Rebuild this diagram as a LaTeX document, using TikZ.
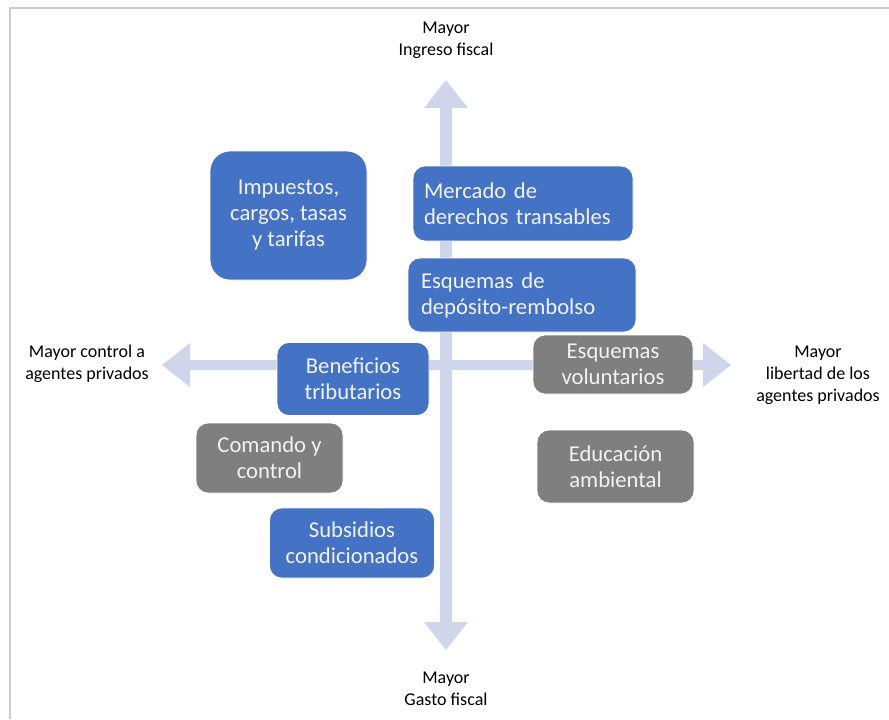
\documentclass[tikz,border=0pt]{standalone}
\usepackage{fontspec}
\setmainfont{Carlito}
\usetikzlibrary{positioning}
\definecolor{toolblue}{RGB}{68,114,196}
\definecolor{toolgray}{RGB}{127,127,127}
\definecolor{axisfill}{RGB}{207,213,234}
\definecolor{tooltext}{RGB}{242,242,242}

\tikzset{
  tool/.style={rectangle,rounded corners=9pt,draw=white,line width=0.6pt,
    text=tooltext,font=\fontsize{17}{19.5}\selectfont,inner sep=0pt,align=center},
  bluetool/.style={tool,fill=toolblue},
  graytool/.style={tool,fill=toolgray},
  axislabel/.style={align=center,font=\fontsize{13.5}{16.5}\selectfont}
}

\begin{document}
\begin{tikzpicture}[x=0.75pt,y=-0.75pt]
\useasboundingbox (0,0) rectangle (889,719);
% frame
\draw[gray!40,line width=1.5pt] (10,719) -- (10,8) -- (889,8);
% axes
\fill[axisfill] (446,80) -- (468,108) -- (452,108) -- (452,622) -- (468,622)
  -- (446,650) -- (424,622) -- (440,622) -- (440,108) -- (424,108) -- cycle;
\fill[axisfill] (162,365) -- (190,343) -- (190,360) -- (703,360) -- (703,343)
  -- (731,365) -- (703,387) -- (703,370) -- (190,370) -- (190,387) -- cycle;
% axis labels
\node[axislabel] (ingreso) at (446,40) {Mayor\\Ingreso fiscal};
\node[axislabel] (gasto) at (446,689) {Mayor\\Gasto fiscal};
\node[axislabel] (control) at (87,364) {Mayor control a\\agentes privados};
\node[axislabel] (libertad) at (818,375) {Mayor\\libertad de los\\agentes privados};
% instruments
\node[bluetool,rounded corners=15pt,minimum width=117.75pt,minimum height=96.75pt]
  (impuestos) at (288.5,215.5) {Impuestos,\\cargos, tasas\\y tarifas};
\node[bluetool,align=left,text width=148.5pt,inner xsep=8.25pt,minimum height=56.25pt]
  (mercado) at (523,203.5) {Mercado de\\derechos transables};
\node[bluetool,align=left,text width=151.5pt,inner xsep=9.75pt,minimum height=55.5pt]
  (deposito) at (522,295) {Esquemas de\\depósito-rembolso};
\node[bluetool,minimum width=114pt,minimum height=54.75pt]
  (beneficios) at (353,379) {Beneficios\\tributarios};
\node[graytool,minimum width=120pt,minimum height=44.25pt]
  (voluntarios) at (613,364.5) {Esquemas\\voluntarios};
\node[graytool,minimum width=110.25pt,minimum height=52.5pt]
  (comando) at (269.5,458) {Comando y\\control};
\node[graytool,minimum width=117.75pt,minimum height=54.75pt]
  (educacion) at (615.5,466.5) {Educación\\ambiental};
\node[bluetool,minimum width=123.75pt,minimum height=52.5pt]
  (subsidios) at (352,543) {Subsidios\\condicionados};
\end{tikzpicture}
\end{document}
